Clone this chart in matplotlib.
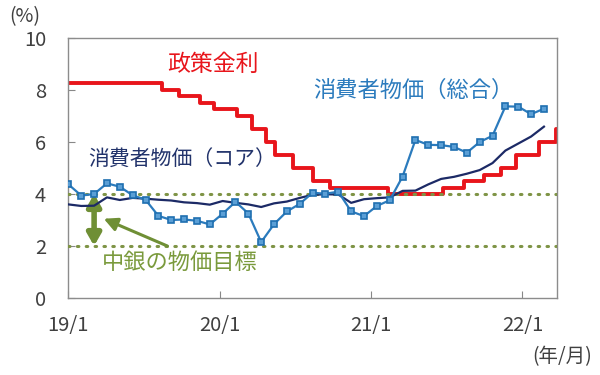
import matplotlib
matplotlib.use('Agg')
import matplotlib.pyplot as plt
import pandas as pd

plt.rcParams['font.family'] = ['Noto Sans CJK JP', 'DejaVu Sans']

# monthly CPI (y/y, %), 2019/1 - 2022/2
cpi_headline = [4.37, 3.94, 4.00, 4.41, 4.28, 3.95, 3.78, 3.16, 3.00, 3.02, 2.97, 2.83,
                3.24, 3.70, 3.25, 2.15, 2.84, 3.33, 3.62, 4.05, 4.01, 4.09, 3.33, 3.15,
                3.54, 3.76, 4.67, 6.08, 5.89, 5.88, 5.81, 5.59, 6.00, 6.24, 7.37, 7.36,
                7.07, 7.28]
cpi_core = [3.60, 3.54, 3.55, 3.87, 3.77, 3.85, 3.82, 3.78, 3.75, 3.68, 3.65, 3.59,
            3.73, 3.66, 3.60, 3.50, 3.64, 3.71, 3.85, 3.97, 3.99, 3.98, 3.66, 3.80,
            3.84, 3.87, 4.12, 4.13, 4.37, 4.58, 4.66, 4.78, 4.92, 5.19, 5.67, 5.94,
            6.21, 6.59]

# policy rate decisions (date, %)
rate_dates = ['2019-01-01', '2019-08-15', '2019-09-26', '2019-11-14', '2019-12-19',
              '2020-02-13', '2020-03-20', '2020-04-21', '2020-05-14', '2020-06-25',
              '2020-08-13', '2020-09-24', '2021-02-11', '2021-06-24', '2021-08-12',
              '2021-09-30', '2021-11-11', '2021-12-16', '2022-02-10', '2022-03-24',
              '2022-03-31']
rate_values = [8.25, 8.00, 7.75, 7.50, 7.25, 7.00, 6.50, 6.00, 5.50, 5.00,
               4.50, 4.25, 4.00, 4.25, 4.50, 4.75, 5.00, 5.50, 6.00, 6.50, 6.50]

target_band = [2, 4]

year_ticks = ['2019-01-01', '2020-01-01', '2021-01-01', '2022-01-01']
year_labels = ['19/1', '20/1', '21/1', '22/1']

red = '#e8151b'
blue = '#2b7bbd'
navy = '#1c2a66'
olive = '#7a9a3c'
grey = '#404040'

fig = plt.figure(figsize=(6, 3.75), dpi=100)
ax = fig.add_axes([0.114, 0.2053, 0.814, 0.6934])

ax.plot(pd.to_datetime(rate_dates), rate_values, drawstyle='steps-post',
        color=red, lw=2.8, zorder=2)
for t in target_band:
    ax.axhline(t, color='#7f9446', lw=2.2, linestyle=(0, (0.5, 2.4)),
               dash_capstyle='round', zorder=3)

ax.set_xlim(pd.Timestamp('2019-01-01'), pd.Timestamp('2022-03-25'))
ax.set_ylim(0, 10)
ax.set_yticks(range(0, 11, 2))
ax.set_xticks(pd.to_datetime(year_ticks))
ax.set_xticklabels(year_labels)
ax.tick_params(axis='both', direction='in', length=5, color='#888888',
               labelsize=14.5, labelcolor=grey)
ax.tick_params(axis='x', pad=12)
ax.tick_params(axis='y', pad=16)
for s in ax.spines.values():
    s.set_color('#8c8c8c')
    s.set_linewidth(1)

# CPI on a secondary (monthly category) x axis
ax2 = ax.twiny()
ax2.set_xlim(0, len(cpi_headline))
months = list(range(len(cpi_headline)))
ax2.plot(months, cpi_core, color=navy, lw=1.6, zorder=4)
ax2.plot(months, cpi_headline, color=blue, lw=1.6, marker='s', markersize=5,
         markerfacecolor='#5b9fd6', markeredgecolor='#1f6fb0', markeredgewidth=1.2,
         zorder=5)
ax2.set_xticks([])
for s in ax2.spines.values():
    s.set_visible(False)

# annotations
ax2.annotate('', xy=(2, 2.0), xytext=(2, 4.0),
             arrowprops=dict(arrowstyle='<|-|>,head_length=0.7,head_width=0.4',
                             color='#6f8f35', lw=4, shrinkA=0, shrinkB=0))
ax2.annotate('', xy=(2.75, 3.05), xytext=(7.7, 2.0),
             arrowprops=dict(arrowstyle='-|>,head_length=0.8,head_width=0.4',
                             color='#6f8f35', lw=2.2, shrinkA=0, shrinkB=0))
ax2.text(8.7, 1.35, '中銀の物価目標', color=olive, fontsize=16,
         ha='center', va='center')
ax2.text(11.25, 9.0, '政策金利', color=red, fontsize=16.5, ha='center', va='center')
ax2.text(8.85, 5.3, '消費者物価（コア）', color='#22336b', fontsize=15,
         ha='center', va='center')
ax2.text(26.8, 8.0, '消費者物価（総合）', color=blue, fontsize=16,
         ha='center', va='center')

fig.text(0.042, 0.955, '(%)', fontsize=14, color=grey, ha='center', va='center')
fig.text(0.937, 0.048, '(年/月)', fontsize=14, color=grey, ha='center', va='center')

fig.savefig('out.png', dpi=100)
